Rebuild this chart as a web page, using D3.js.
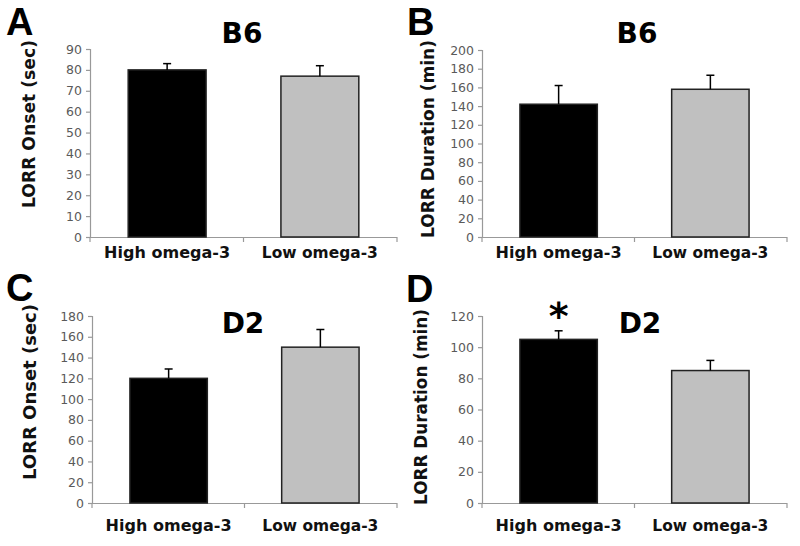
<!DOCTYPE html>
<html><head><meta charset="utf-8">
<script src="https://cdn.jsdelivr.net/npm/d3@7"></script>
<style>
html,body{margin:0;padding:0;background:#fff;}
svg{display:block;}
</style></head>
<body>
<script>
// ---- data ----
const categories = ["High omega-3", "Low omega-3"];
const panelLetters = ["A", "B", "C", "D"];
const panelTitles = ["B6", "B6", "D2", "D2"];
const yLabels = ["LORR Onset (sec)", "LORR Duration (min)", "LORR Onset (sec)", "LORR Duration (min)"];
const valuesA = [80, 77];
const errorsA = [3, 5];
const valuesB = [142, 158];
const errorsB = [20, 15];
const valuesC = [120, 150];
const errorsC = [9, 17];
const valuesD = [105, 85];
const errorsD = [5.5, 6.5];
const ticksA = [0, 10, 20, 30, 40, 50, 60, 70, 80, 90];
const ticksB = [0, 20, 40, 60, 80, 100, 120, 140, 160, 180, 200];
const ticksC = [0, 20, 40, 60, 80, 100, 120, 140, 160, 180];
const ticksD = [0, 20, 40, 60, 80, 100, 120];
const significance = ["*", ""]; // panel D markers
const barColors = ["#000000", "#c0c0c0"];

// ---- layout ----
const W = 800, H = 546;
const svg = d3.select("body").append("svg").attr("width", W).attr("height", H);

const panels = [
  {vals: valuesA, errs: errorsA, ticks: ticksA, x0: 90, x1: 397, yT: 49, yB: 237,
   lx: 6, ly: 35, tx: 242, ty: 43, labX: 29, labY: 124, labLen: 168, catY: 258},
  {vals: valuesB, errs: errorsB, ticks: ticksB, x0: 482, x1: 787, yT: 50, yB: 237,
   lx: 407, ly: 35, tx: 637, ty: 43, labX: 428, labY: 139, labLen: 198, catY: 258},
  {vals: valuesC, errs: errorsC, ticks: ticksC, x0: 92, x1: 397, yT: 316, yB: 503,
   lx: 6, ly: 301, tx: 243, ty: 333, labX: 30, labY: 392, labLen: 176, catY: 531},
  {vals: valuesD, errs: errorsD, ticks: ticksD, x0: 482, x1: 787, yT: 316, yB: 503,
   lx: 406, ly: 302, tx: 640, ty: 333, labX: 421, labY: 407, labLen: 196, catY: 531, sig: significance}
];

panels.forEach((p, i) => {
  const g = svg.append("g");
  const ymax = p.ticks[p.ticks.length - 1];
  const y = d3.scaleLinear().domain([0, ymax]).range([p.yB, p.yT]);
  const x = d3.scaleBand().domain(categories).range([p.x0, p.x1]).paddingInner(0.49).paddingOuter(0.25);

  // y axis
  const yAxis = d3.axisLeft(y).tickValues(p.ticks).tickSize(4).tickPadding(4).tickFormat(d3.format("d"));
  const ya = g.append("g").attr("transform", `translate(${p.x0},0)`).call(yAxis);
  ya.select(".domain").attr("stroke", "#999").attr("stroke-width", 1.2).attr("d", `M-4,${p.yT}.5H0.5V${p.yB}`);
  ya.selectAll(".tick line").attr("stroke", "#999").attr("stroke-width", 1.2);
  ya.selectAll(".tick text").attr("fill", "#5a5a5a").style("font-family", "DejaVu Sans")
    .style("font-size", "12.5px");

  // x axis (with boundary ticks)
  const xa = g.append("g").attr("transform", `translate(0,${p.yB})`);
  xa.append("line").attr("x1", p.x0).attr("x2", p.x1).attr("y1", 0.5).attr("y2", 0.5)
    .attr("stroke", "#999").attr("stroke-width", 1.2);
  const mid = (x(categories[0]) + x.bandwidth() + x(categories[1])) / 2;
  [p.x0, mid, p.x1].forEach(xx => {
    xa.append("line").attr("x1", xx).attr("x2", xx).attr("y1", 0).attr("y2", 5)
      .attr("stroke", "#999").attr("stroke-width", 1.2);
  });

  // bars
  g.selectAll("rect.bar").data(p.vals).join("rect").attr("class", "bar")
    .attr("x", (d, j) => x(categories[j]))
    .attr("width", x.bandwidth())
    .attr("y", d => y(d))
    .attr("height", d => y(0) - y(d))
    .attr("fill", (d, j) => barColors[j])
    .attr("stroke", "#222").attr("stroke-width", 1.5);

  // error bars
  p.vals.forEach((v, j) => {
    const cx = x(categories[j]) + x.bandwidth() / 2;
    g.append("line").attr("x1", cx).attr("x2", cx).attr("y1", y(v)).attr("y2", y(v + p.errs[j]))
      .attr("stroke", "#000").attr("stroke-width", 1.5);
    g.append("line").attr("x1", cx - 4).attr("x2", cx + 4).attr("y1", y(v + p.errs[j])).attr("y2", y(v + p.errs[j]))
      .attr("stroke", "#000").attr("stroke-width", 1.5);
    if (p.sig && p.sig[j]) {
      g.append("text").attr("x", cx).attr("y", p.ty - 4).attr("text-anchor", "middle")
        .style("font-family", "DejaVu Sans").style("font-weight", "bold").style("font-size", "38px")
        .text(p.sig[j]);
    }
  });

  // category labels
  categories.forEach((c, j) => {
    g.append("text").attr("x", x(c) + x.bandwidth() / 2).attr("y", p.catY).attr("text-anchor", "middle")
      .style("font-family", "DejaVu Sans").style("font-weight", "bold").style("font-size", "15px")
      .attr("fill", "#111")
      .attr("textLength", j === 0 ? 126 : 116).attr("lengthAdjust", "spacingAndGlyphs")
      .text(c);
  });

  // y label
  g.append("text").attr("transform", `translate(${p.labX},${p.labY}) rotate(-90)`)
    .attr("text-anchor", "middle").attr("dy", "0.35em")
    .style("font-family", "DejaVu Sans").style("font-weight", "bold").style("font-size", "17px")
    .attr("fill", "#111")
    .attr("textLength", p.labLen).attr("lengthAdjust", "spacingAndGlyphs")
    .text(yLabels[i]);

  // panel title
  g.append("text").attr("x", p.tx).attr("y", p.ty).attr("text-anchor", "middle")
    .style("font-family", "DejaVu Sans").style("font-weight", "bold").style("font-size", "28px")
    .text(panelTitles[i]);

  // panel letter
  g.append("text").attr("x", p.lx).attr("y", p.ly)
    .style("font-family", "Liberation Sans").style("font-weight", "bold").style("font-size", "38px")
    .text(panelLetters[i]);
});
</script>
</body></html>
